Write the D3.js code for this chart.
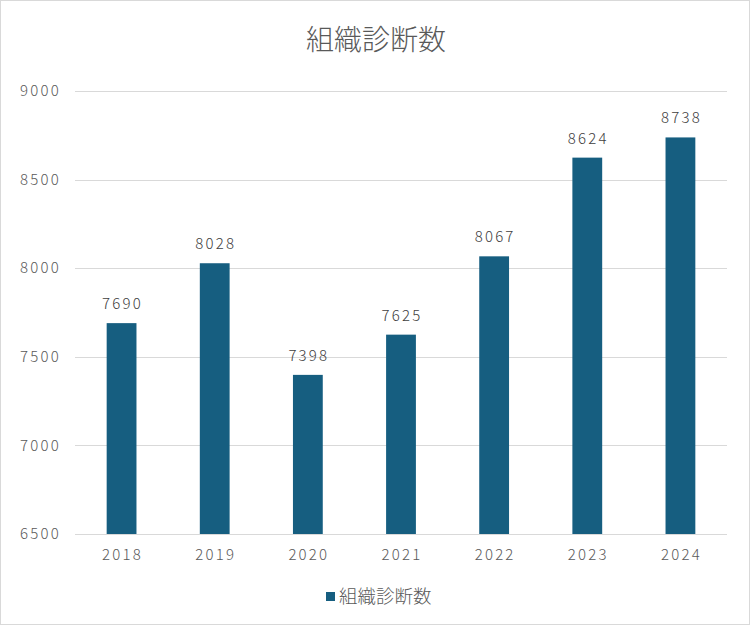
<!DOCTYPE html>
<html><head><meta charset="utf-8">
<script src="https://cdn.jsdelivr.net/npm/d3@7"></script>
<style>body{margin:0;background:#fff;} svg{display:block;}</style>
</head><body>
<script>
const title = "組織診断数";
const categories = ["2018","2019","2020","2021","2022","2023","2024"];
const values = [7690, 8028, 7398, 7625, 8067, 8624, 8738];
const yTicks = [6500, 7000, 7500, 8000, 8500, 9000];

const W = 752, H = 627;
const m = {left: 75, right: 25, top: 91, bottom: 93};
const svg = d3.select("body").append("svg").attr("width", W).attr("height", H);
svg.append("rect").attr("x",0.5).attr("y",0.5).attr("width",W-3).attr("height",H-3)
  .attr("fill","#fff").attr("stroke","#d9d9d9");

const x = d3.scaleBand().domain(categories).range([m.left, W-m.right]).paddingInner(0.68).paddingOuter(0.34);
const y = d3.scaleLinear().domain([6500, 9000]).range([H-m.bottom, m.top]);
const font = "'Noto Sans CJK JP', 'Noto Sans', sans-serif";

const g = svg.append("g");
g.selectAll("line.grid").data(yTicks).join("line")
  .attr("x1", m.left).attr("x2", W-m.right)
  .attr("y1", d=>Math.round(y(d))+0.5).attr("y2", d=>Math.round(y(d))+0.5)
  .attr("stroke","#d9d9d9").attr("stroke-width",1);

g.selectAll("text.yl").data(yTicks).join("text")
  .attr("x", 61).attr("y", d=>y(d)).attr("dy","0.35em").attr("text-anchor","end")
  .attr("fill","#595959").attr("font-family",font).attr("font-size",15).attr("font-weight",300).attr("letter-spacing","2.2px")
  .text(d=>d);

g.selectAll("rect.bar").data(values).join("rect")
  .attr("x",(d,i)=>x(categories[i])).attr("width",x.bandwidth())
  .attr("y",d=>y(d)).attr("height",d=>y(6500)-y(d)).attr("fill","#165e80");

g.selectAll("text.val").data(values).join("text")
  .attr("x",(d,i)=>x(categories[i])+x.bandwidth()/2+1).attr("y",d=>y(d)-14)
  .attr("text-anchor","middle").attr("fill","#404040").attr("font-family",font).attr("font-weight",300)
  .attr("font-size",15).attr("letter-spacing","2.2px").text(d=>d);

g.selectAll("text.xl").data(categories).join("text")
  .attr("x",d=>x(d)+x.bandwidth()/2+1).attr("y",H-m.bottom+26)
  .attr("text-anchor","middle").attr("fill","#595959").attr("font-family",font).attr("font-weight",300)
  .attr("font-size",15).attr("letter-spacing","2.2px").text(d=>d);

svg.append("text").attr("x",W/2).attr("y",50).attr("text-anchor","middle")
  .attr("fill","#595959").attr("font-family",font).attr("font-size",28).attr("font-weight",300).text(title);

const lg = svg.append("g");
lg.append("rect").attr("x",326).attr("y",592).attr("width",9).attr("height",9).attr("fill","#165e80");
lg.append("text").attr("x",339).attr("y",597).attr("dy","0.35em").attr("fill","#595959").attr("font-weight",300)
  .attr("font-family",font).attr("font-size",18.5).text(title);
</script>
</body></html>
